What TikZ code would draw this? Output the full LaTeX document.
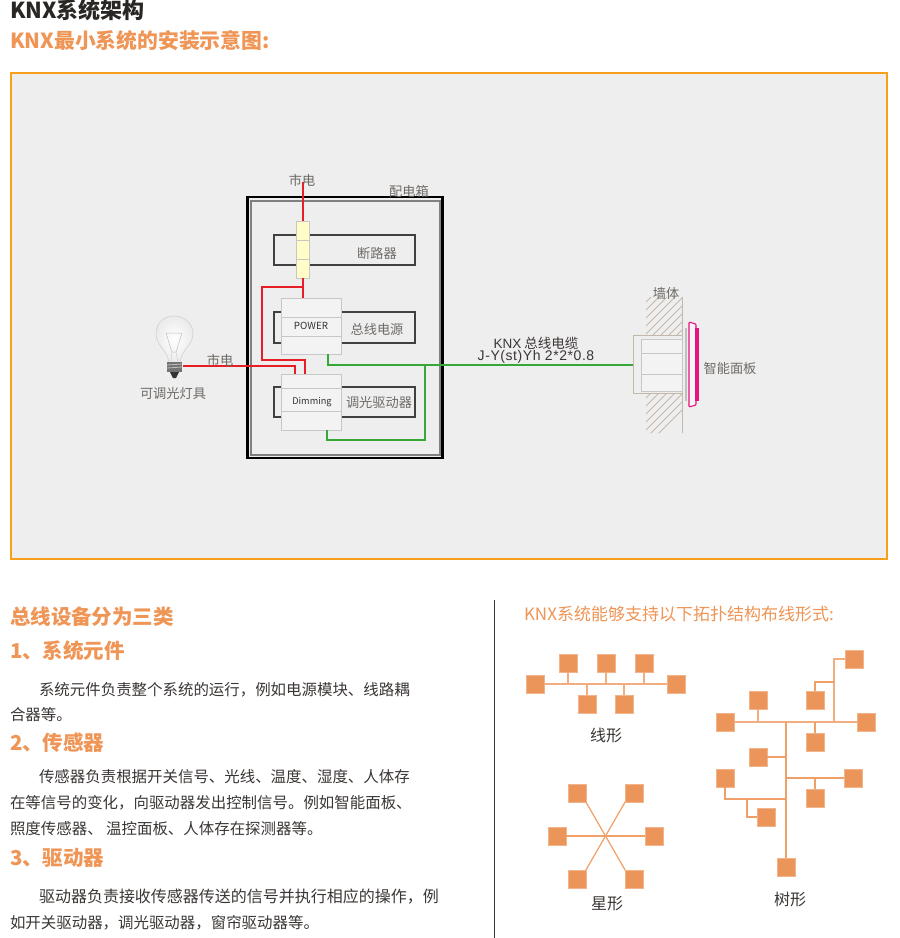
\documentclass[tikz,border=0pt]{standalone}
\usepackage{fontspec}
\setmainfont{Noto Sans CJK SC}
\newfontfamily\latinfont{Liberation Sans}
\newfontfamily\latinspaced[LetterSpace=4]{Liberation Sans}
\usetikzlibrary{calc}
\definecolor{orangetxt}{HTML}{EF9555}
\definecolor{framecol}{HTML}{F8A01C}
\definecolor{panelbg}{HTML}{EEEEEE}
\definecolor{sq}{HTML}{EC955A}
\definecolor{sqline}{HTML}{F2AE80}
\definecolor{sqlined}{HTML}{EF9F68}
\definecolor{redw}{HTML}{E81E27}
\definecolor{greenw}{HTML}{35A838}
\definecolor{tan}{HTML}{C4B8AB}
\definecolor{pinkp}{HTML}{E5127F}
\definecolor{labelgray}{HTML}{6E6A66}
\definecolor{bodytxt}{HTML}{3A3634}
\newcommand{\fs}[1]{\fontsize{#1}{#1}\selectfont}
\tikzset{
  txt/.style={inner sep=0pt,outer sep=0pt,align=left},
  lefttxt/.style={txt,anchor=west},
  title/.style={lefttxt,text=bodytxt!70!black,font=\fs{22}\bfseries},
  head/.style={lefttxt,text=orangetxt,font=\fs{20.8}\bfseries},
  body/.style={lefttxt,text=bodytxt,font=\fs{15.45}},
  dlabel/.style={txt,text=labelgray,font=\fs{13.2}},
  topo/.style={txt,text=bodytxt,font=\fs{16}},
  sqn/.style={rectangle,fill=sq,draw=sq!70!white,line width=.4pt,minimum size=17.5pt,inner sep=0pt,outer sep=0pt},
  wire/.style={line width=2.2pt,line join=miter},
  rw/.style={wire,draw=redw},
  gw/.style={wire,draw=greenw},
  devbox/.style={rectangle,draw=black!75,line width=1.1pt,inner sep=0pt,outer sep=0pt},
  block/.style={rectangle,draw=black!22,fill=panelbg!70!white,line width=.9pt,inner sep=0pt,outer sep=0pt,minimum width=60pt,minimum height=56pt},
  bus/.style={draw=sqline,line width=1.5pt},
  busthin/.style={draw=sqlined,line width=1.2pt},
}
\begin{document}
\begin{tikzpicture}[x=1pt,y=-1pt]
\useasboundingbox (0,0) rectangle (900,938);
\fill[white] (0,0) rectangle (900,938);
% titles
\node[title] (t1) at (10,10.5) {KNX系统架构};
\node[head] (t2) at (10,41) {KNX最小系统的安装示意图:};
% main frame
\node[rectangle,draw=framecol,fill=panelbg,line width=1.5pt,minimum width=876pt,minimum height=486pt,inner sep=0pt] (frame) at (449,316) {};
% cabinet
\node[rectangle,draw=black,line width=2.4pt,minimum width=195pt,minimum height=261pt,inner sep=0pt] (cab) at (345,327.5) {};
\node[rectangle,draw=black!50,line width=1.5pt,minimum width=189pt,minimum height=254pt,inner sep=0pt] (cabin) at (345.5,328) {};
\node[dlabel] (cabl) at (409,191) {配电箱};
% device rails
\node[devbox,minimum width=141pt,minimum height=30pt] (br) at (344.5,250) {};
\node[devbox,minimum width=141pt,minimum height=31pt] (psu) at (344.5,327.5) {};
\node[devbox,minimum width=141pt,minimum height=30pt] (dim) at (344.5,402) {};
\node[dlabel] (brl) at (377,253) {断路器};
\node[dlabel] (psul) at (377,329) {总线电源};
\node[dlabel] (diml) at (379,402) {调光驱动器};
% red wires
\coordinate (mtop) at (303,182);
\coordinate (jn) at (303,287);
\coordinate (lft) at (262,287);
\coordinate (lfb) at (262,360);
\coordinate (dimIn) at (305,360);
\coordinate (lampOut) at (183,366);
\coordinate (dimIn2) at (295,366);
% breaker
\node[rectangle,draw=black!22,fill=yellow!22!white,line width=.9pt,minimum width=13pt,minimum height=57pt,inner sep=0pt] (yb) at (302.5,249.5) {};
\draw[black!22,line width=.8pt] (296,240) -- (309,240) (296,259) -- (309,259);
% blocks
\node[block] (pb) at (311,326) {};
\draw[black!22,line width=.8pt] (281,317) -- (341,317) (281,336) -- (341,336);
\node[txt,text=black!80,font=\fs{9.8}] (pbl) at (311,326) {POWER};
\node[block] (db) at (311,402) {};
\draw[black!22,line width=.8pt] (281,388) -- (341,388) (281,411) -- (341,411);
\node[txt,text=black!80,font=\fs{9.2}] (dbl) at (312,402) {Dimming};
\draw[rw] (mtop) -- (yb.north -| mtop);
\draw[rw] (yb.south -| mtop) -- (pb.north -| mtop);
\draw[rw] (jn) -- (lft) -- (lfb) -- (dimIn) -- (dimIn |- db.north);
\draw[rw] (lampOut) -- (dimIn2) -- (dimIn2 |- db.north);
\node[dlabel] (m1) at (302,180) {市电};
\node[dlabel] (m2) at (220,360) {市电};
% wall
\begin{scope}
\clip (646,297) rectangle (682,335) (646,393) rectangle (682,433);
\foreach \k in {0,8,...,152}{
  \draw[tan,line width=.8pt] (640,{300+\k}) -- (684,{256+\k});
}
\end{scope}
\draw[tan,line width=1pt] (682,297) -- (682,433);
\node[dlabel] (wl) at (666,293) {墙体};
\node[rectangle,draw=tan,fill=panelbg,line width=1pt,minimum width=49pt,minimum height=58pt,inner sep=0pt] (bb) at (657.5,364) {};
\node[rectangle,draw=black!22,fill=panelbg!70!white,line width=.9pt,minimum width=41pt,minimum height=52pt,inner sep=0pt] (bbi) at (661.5,365) {};
\draw[black!22,line width=.8pt] (641,353) -- (682,353) (641,374) -- (682,374);
\fill[black!25] (685,328) rectangle (687,401);
\draw[pinkp,line width=1.1pt,rounded corners=1pt,fill=panelbg!60!white] (689,322) -- (696,324) -- (696,405) -- (689,407) -- cycle;
\fill[pinkp] (695,328) rectangle (699,401);
\node[dlabel] (pl) at (730,368) {智能面板};
% green
\coordinate (gpo) at (328,365);
\coordinate (gj) at (425,365);
\coordinate (gjb) at (425,440);
\coordinate (gdo) at (327,440);
\draw[gw] (328,354) -- (gpo) -- (gj) -- (bb.west |- gj);
\draw[gw] (gj) -- (gjb) -- (gdo) -- (327,430);
\node[txt,text=bodytxt,font=\fs{13.5}] (cb1) at (536,343) {{\latinfont KNX} 总线电缆};
\node[txt,text=bodytxt,font=\fs{14}\latinspaced] (cb2) at (536,357) {J-Y(st)Yh 2*2*0.8};
% bulb
\shade[inner color=white,outer color=black!8] (169,362) .. controls (167,350) and (156,345) .. (156,334) .. controls (156,322) and (165,316) .. (174,316) .. controls (183,316) and (193,322) .. (193,334) .. controls (193,345) and (181,350) .. (180,362) -- cycle;
\draw[black!20,line width=.5pt] (169,362) .. controls (167,350) and (156,345) .. (156,334) .. controls (156,322) and (165,316) .. (174,316) .. controls (183,316) and (193,322) .. (193,334) .. controls (193,345) and (181,350) .. (180,362);
\draw[black!25,line width=.5pt] (166,333) -- (182,333) -- (176,352) -- (172,352) -- cycle;
\draw[black!18,line width=.5pt] (172,352) -- (171,362) (176,352) -- (178,362);
\fill[black!55] (167,362) rectangle (182,372);
\draw[white!75!black,line width=.8pt] (167,365) -- (182,364) (167,368) -- (182,367);
\fill[black!80] (170,372) -- (179,372) -- (176,378) -- (173,378) -- cycle;
\node[dlabel] (lampl) at (173,393) {可调光灯具};
% left column
\node[head,font=\fs{20.5}\bfseries] (h0) at (10,617) {总线设备分为三类};
\node[head,font=\fs{20.5}\bfseries] (h1) at (10,651) {1、系统元件};
\node[body] (b11) at (39,689.5) {系统元件负责整个系统的运行，例如电源模块、线路耦};
\node[body] (b12) at (10,715) {合器等。};
\node[head,font=\fs{20.5}\bfseries] (h2) at (10,743) {2、传感器};
\node[body] (b21) at (39,777) {传感器负责根据开关信号、光线、温度、湿度、人体存};
\node[body] (b22) at (10,803) {在等信号的变化，向驱动器发出控制信号。例如智能面板、};
\node[body] (b23) at (10,829) {照度传感器、 温控面板、人体存在探测器等。};
\node[head,font=\fs{20.5}\bfseries] (h3) at (10,858) {3、驱动器};
\node[body,font=\fs{16}] (b31) at (39,897) {驱动器负责接收传感器传送的信号并执行相应的操作，例};
\node[body] (b32) at (10,923) {如开关驱动器，调光驱动器，窗帘驱动器等。};
% divider
\coordinate (dv1) at (494,600);
\coordinate (dv2) at (494,938);
\draw[bodytxt,line width=.9pt] (dv1) -- (dv2);
\node[lefttxt,text=orangetxt,font=\fs{17}] (rh) at (524,614) {KNX系统能够支持以下拓扑结构布线形式:};
% linear
\coordinate (lbus) at (606,684);
\node[sqn] (l1) at (535,684) {};
\node[sqn] (l2) at (568,663) {};
\node[sqn] (l3) at (606,663) {};
\node[sqn] (l4) at (644,663) {};
\node[sqn] (l5) at (676,684) {};
\node[sqn] (l6) at (587,704) {};
\node[sqn] (l7) at (624,704) {};
\draw[bus] (l1) -- (l5);
\foreach \n in {l2,l3,l4,l6,l7}{ \draw[bus] (\n) -- (\n |- lbus); }
\node[topo] (ll) at (606,735) {线形};
% star
\node[sqn] (s1) at (577,793) {};
\node[sqn] (s2) at (634,793) {};
\node[sqn] (s3) at (557,836) {};
\node[sqn] (s4) at (654,836) {};
\node[sqn] (s5) at (577,879) {};
\node[sqn] (s6) at (634,879) {};
\draw[busthin] (s1.south east) -- (s6.north west);
\draw[busthin] (s2.south west) -- (s5.north east);
\draw[busthin] (s3) -- (s4);
\node[topo] (sl) at (607,904) {星形};
% tree
\node[sqn] (a1) at (854,659) {};
\node[sqn] (a2) at (815,700) {};
\node[sqn] (a3) at (758,700) {};
\node[sqn] (a4) at (725,722) {};
\node[sqn] (a5) at (866,722) {};
\node[sqn] (a6) at (815,742) {};
\node[sqn] (a7) at (758,757) {};
\node[sqn] (a8) at (725,778) {};
\node[sqn] (a9) at (853,778) {};
\node[sqn] (a10) at (815,798) {};
\node[sqn] (a11) at (766,817) {};
\node[sqn] (a12) at (786,867) {};
\coordinate (tj) at (786,722);
\coordinate (tr) at (834,722);
\coordinate (trb) at (834,682);
\coordinate (tl) at (786,799);
\coordinate (tb) at (747,799);
\draw[bus] (a4) -- (a5);
\draw[bus] (a3) -- (a3 |- tj);
\draw[busthin] (a6) -- (a6 |- tj);
\draw[bus] (tr) |- (a1);
\draw[busthin] (trb) -| (a2);
\draw[busthin] (tj) -- (a12);
\draw[busthin] (a7) -- (a7 -| tj);
\draw[busthin] (a9) -- (a9 -| tj);
\draw[busthin] (a10) -- (a10 |- a9);
\draw[busthin] (a8) |- (tl);
\draw[busthin] (tb) |- (a11);
\node[topo] (tll) at (790,899) {树形};
\end{tikzpicture}
\end{document}
